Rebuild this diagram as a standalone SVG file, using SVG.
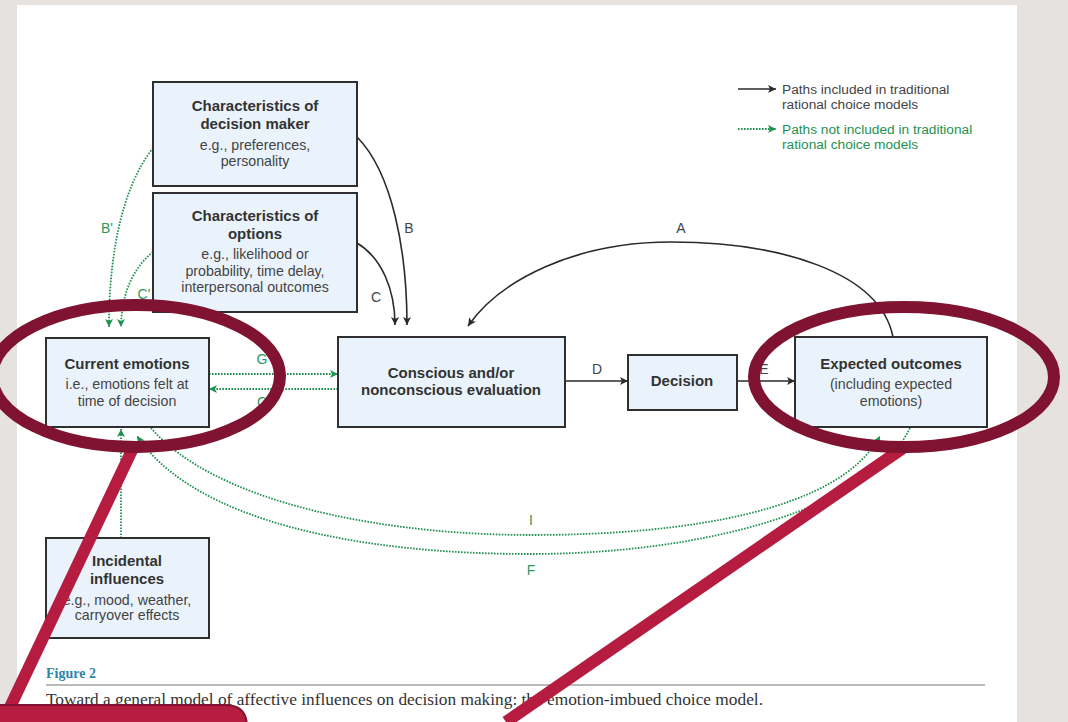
<svg xmlns="http://www.w3.org/2000/svg" width="1068" height="722" viewBox="0 0 1068 722">
  <style>
    .box { fill: #eaf3fb; stroke: #2f2f2f; stroke-width: 2; }
    .title { font-family: "Liberation Sans", Arial, sans-serif; font-size: 15px; font-weight: bold; fill: #333; text-anchor: middle; }
    .sub { font-family: "Liberation Sans", Arial, sans-serif; font-size: 14.2px; fill: #444; text-anchor: middle; }
    .solid { fill: none; stroke: #2a2a2a; stroke-width: 1.6; }
    .dotted { fill: none; stroke: #1f9150; stroke-width: 1.8; stroke-dasharray: 1.6 1.4; }
    .lbl { font-family: "Liberation Sans", Arial, sans-serif; font-size: 14px; fill: #444; text-anchor: middle; }
    .glbl { font-family: "Liberation Sans", Arial, sans-serif; font-size: 14px; fill: #2a9a5c; text-anchor: middle; }
    .legend { font-family: "Liberation Sans", Arial, sans-serif; font-size: 13.7px; fill: #444; }
    .glegend { font-family: "Liberation Sans", Arial, sans-serif; font-size: 13.7px; fill: #1f9150; }
    .ring { fill: none; stroke: #7f1331; stroke-width: 12; }
    .pointer { stroke: #b51c40; stroke-width: 12; }
  </style>
  <defs>
    <marker id="arrowBlack" viewBox="0 0 10 10" refX="10" refY="5" markerWidth="10" markerHeight="8" markerUnits="userSpaceOnUse" orient="auto">
      <path d="M0,0 L10,5 L0,10 L2.5,5 Z" fill="#2a2a2a"/>
    </marker>
    <marker id="arrowGreen" viewBox="0 0 10 10" refX="10" refY="5" markerWidth="9" markerHeight="8" markerUnits="userSpaceOnUse" orient="auto">
      <path d="M0,0 L10,5 L0,10 L2.5,5 Z" fill="#1f9150"/>
    </marker>
  </defs>

  <!-- page and surrounding frame -->
  <rect x="0" y="0" width="1068" height="722" fill="#e5e2df"/>
  <rect x="17" y="5" width="1000" height="717" fill="#ffffff"/>

  <!-- legend -->
  <g id="legend">
    <path class="solid" d="M738,89 L776,89" marker-end="url(#arrowBlack)"/>
    <text class="legend" x="782" y="94">Paths included in traditional</text>
    <text class="legend" x="782" y="109">rational choice models</text>
    <path class="dotted" d="M738,129 L776,129" marker-end="url(#arrowGreen)"/>
    <text class="glegend" x="782" y="134">Paths not included in traditional</text>
    <text class="glegend" x="782" y="149">rational choice models</text>
  </g>

  <!-- connectors -->
  <g id="connectors">
    <path class="solid" d="M357,137 C392,172 407,250 407,325" marker-end="url(#arrowBlack)"/>
    <path class="solid" d="M357,243 C382,258 395,290 395,325" marker-end="url(#arrowBlack)"/>
    <path class="solid" d="M893,337 C880,272 780,242 671,242 C575,242 500,280 468,326" marker-end="url(#arrowBlack)"/>
    <path class="solid" d="M565,381 L628,381" marker-end="url(#arrowBlack)"/>
    <path class="solid" d="M737,381 L795,381" marker-end="url(#arrowBlack)"/>
    <path class="dotted" d="M209,374 L338,374" marker-end="url(#arrowGreen)"/>
    <path class="dotted" d="M338,389 L209,389" marker-end="url(#arrowGreen)"/>
    <path class="dotted" d="M153,148 C120,190 109,260 109,327" marker-end="url(#arrowGreen)"/>
    <path class="dotted" d="M153,252 C130,270 121,300 121,327" marker-end="url(#arrowGreen)"/>
    <path class="dotted" d="M121,538 L121,429" marker-end="url(#arrowGreen)"/>
    <path class="dotted" d="M151,428 C215,502 380,535 531,535 C690,535 840,510 880,436" marker-end="url(#arrowGreen)"/>
    <path class="dotted" d="M910,428 C870,510 700,554 530,554 C360,554 195,522 137,436" marker-end="url(#arrowGreen)"/>

    <text class="lbl" x="409" y="233">B</text>
    <text class="lbl" x="376" y="302">C</text>
    <text class="lbl" x="681" y="233">A</text>
    <text class="lbl" x="597" y="374">D</text>
    <text class="lbl" x="764" y="374">E</text>
    <text class="glbl" x="262" y="364">G</text>
    <text class="glbl" x="262" y="407">C</text>
    <text class="glbl" x="107" y="233">B'</text>
    <text class="glbl" x="144" y="299">C'</text>
    <text class="glbl" x="114" y="493">H</text>
    <text class="glbl" x="531" y="525">I</text>
    <text class="glbl" x="531" y="575">F</text>
  </g>

  <!-- nodes -->
  <g id="decision-maker">
    <rect class="box" x="153" y="82" width="204" height="104"/>
    <text class="title" x="255" y="111">Characteristics of</text>
    <text class="title" x="255" y="129">decision maker</text>
    <text class="sub" x="255" y="150">e.g., preferences,</text>
    <text class="sub" x="255" y="166">personality</text>
  </g>
  <g id="options">
    <rect class="box" x="153" y="193" width="204" height="119"/>
    <text class="title" x="255" y="221">Characteristics of</text>
    <text class="title" x="255" y="239">options</text>
    <text class="sub" x="255" y="259">e.g., likelihood or</text>
    <text class="sub" x="255" y="276">probability, time delay,</text>
    <text class="sub" x="255" y="292">interpersonal outcomes</text>
  </g>
  <g id="current-emotions">
    <rect class="box" x="46" y="338" width="163" height="89"/>
    <text class="title" x="127" y="369">Current emotions</text>
    <text class="sub" x="127" y="389">i.e., emotions felt at</text>
    <text class="sub" x="127" y="406">time of decision</text>
  </g>
  <g id="evaluation">
    <rect class="box" x="338" y="337" width="227" height="90"/>
    <text class="title" x="451" y="378">Conscious and/or</text>
    <text class="title" x="451" y="395">nonconscious evaluation</text>
  </g>
  <g id="decision">
    <rect class="box" x="628" y="355" width="109" height="55"/>
    <text class="title" x="682" y="386">Decision</text>
  </g>
  <g id="expected-outcomes">
    <rect class="box" x="795" y="337" width="192" height="90"/>
    <text class="title" x="891" y="369">Expected outcomes</text>
    <text class="sub" x="891" y="389">(including expected</text>
    <text class="sub" x="891" y="406">emotions)</text>
  </g>
  <g id="incidental">
    <rect class="box" x="46" y="538" width="163" height="100"/>
    <text class="title" x="127" y="566">Incidental</text>
    <text class="title" x="127" y="584">influences</text>
    <text class="sub" x="127" y="605">e.g., mood, weather,</text>
    <text class="sub" x="127" y="620">carryover effects</text>
  </g>

  <!-- caption -->
  <g id="caption">
    <text x="46" y="678" font-family="Liberation Serif, 'Times New Roman', serif" font-size="14" font-weight="bold" fill="#2e86a8">Figure 2</text>
    <line x1="46" y1="685" x2="985" y2="685" stroke="#777" stroke-width="1.2"/>
    <text x="46" y="705" font-family="Liberation Serif, 'Times New Roman', serif" font-size="16.5" fill="#333" textLength="717" lengthAdjust="spacingAndGlyphs">Toward a general model of affective influences on decision making: the emotion-imbued choice model.</text>
  </g>

  <!-- highlight callouts -->
  <g id="callouts">
    <line class="pointer" x1="134" y1="446" x2="3" y2="722"/>
    <line class="pointer" x1="906" y1="446" x2="506" y2="722"/>
    <ellipse class="ring" cx="136" cy="376" rx="144" ry="71"/>
    <ellipse class="ring" cx="904" cy="377" rx="150" ry="70"/>
    <path d="M-2,705 L225,705 Q247,705 247,727 L247,730 L-2,730 Z" fill="#b51c40" stroke="#7f1331" stroke-width="2"/>
  </g>
</svg>
